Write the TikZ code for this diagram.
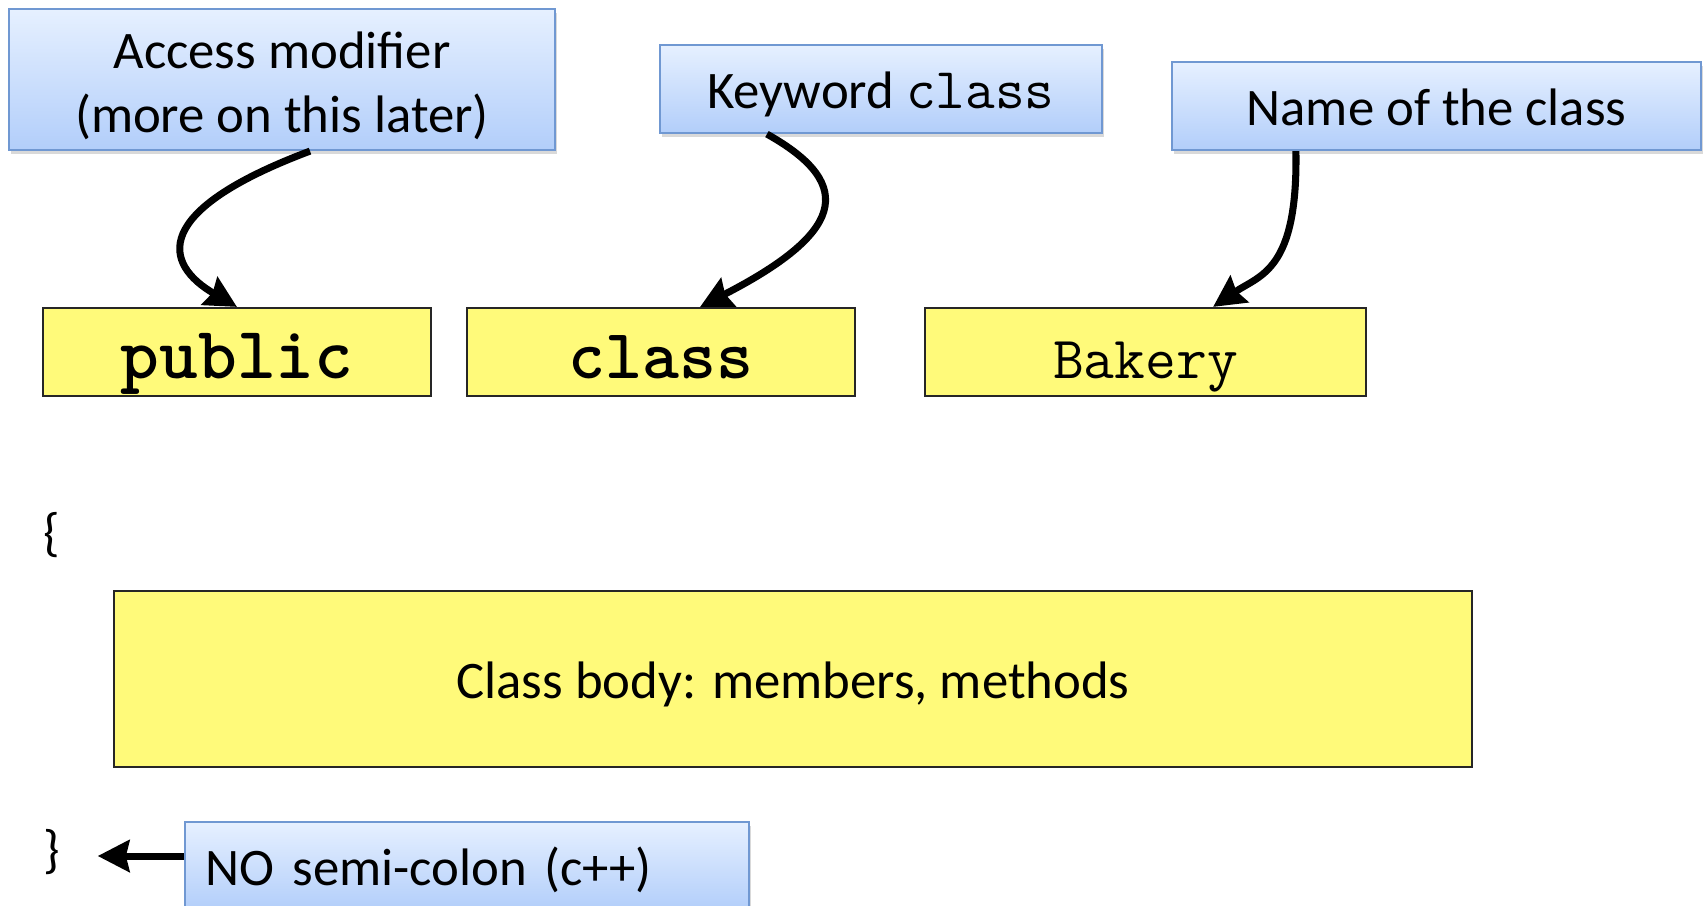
\documentclass[tikz,border=0pt]{standalone}
\usepackage{fontspec}
\setmainfont{Carlito}
\usetikzlibrary{arrows.meta,shadows}
\definecolor{notetop}{RGB}{230,240,255}
\definecolor{notebot}{RGB}{178,206,250}
\definecolor{noteedge}{RGB}{112,152,210}
\definecolor{partfill}{RGB}{255,250,122}

\begin{document}
\begin{tikzpicture}[x=.01cm,y=-.01cm,
  note/.style={draw=noteedge,line width=.6pt,top color=notetop,bottom color=notebot,
    drop shadow={opacity=.3,shadow xshift=.6pt,shadow yshift=-1.2pt},
    font=\fontsize{15}{18}\selectfont,align=center,inner sep=0pt},
  oneline/.style={text height=11pt,text depth=0pt},
  part/.style={draw=black!85,line width=.6pt,fill=partfill,inner sep=0pt,
    minimum height=.88cm},
  code/.style={font=\fontsize{#1}{#1}\selectfont\ttfamily,text height=14.8pt,text depth=0pt},
  boldcode/.style={font=\fontsize{#1}{#1}\selectfont\ttfamily\bfseries,
    text height=14.8pt,text depth=0pt},
  link/.style={line width=2pt,-{Stealth[length=9pt,width=9pt,inset=1pt]}}]
\useasboundingbox (0,0) rectangle (1703,905);
\node (am) [note,minimum width=5.46cm,minimum height=1.41cm] at (282,79.5)
  {\rule{0pt}{14pt}Access modifier\\(more on this later)};
\node (kw) [note,oneline,minimum width=4.42cm,minimum height=.88cm] at (881,89)
  {Keyword {\fontsize{16.4}{18}\selectfont\ttfamily class}};
\node (nm) [note,oneline,minimum width=5.29cm,minimum height=.88cm] at (1436.5,106)
  {Name of the class};
\node (pub) [part,minimum width=3.88cm,boldcode=21] at (237,352) {public};
\node (cls) [part,minimum width=3.88cm,boldcode=20] at (661,352) {class};
\node (bak) [part,minimum width=4.41cm,code=17] at (1145.5,352) {Bakery};
\node (ob) [font=\fontsize{15}{18}\selectfont] at (52,535) {\{};
\node (body) [part,oneline,minimum width=13.58cm,minimum height=1.76cm,
  font=\fontsize{15}{18}\selectfont] at (793,679) {Class body: members, methods};
\node (cb) [font=\fontsize{15}{18}\selectfont] at (52,852) {\}};
\node (semi) [note,oneline,minimum width=5.64cm,minimum height=.88cm,text width=5.22cm,
  align=left] at (467,866) {NO semi-colon (c++)};
% callouts to the parts
\draw[link] ([xshift=.28cm]am.south) .. controls +(-160,60) and +(-74,-43) .. (pub.north);
\draw[link] ([xshift=-1.14cm]kw.south) .. controls +(93,52) and +(140,-72) .. ([xshift=.39cm]cls.north);
\draw[link] ([xshift=-1.405cm]nm.south) .. controls +(2,120) and +(47,-32) .. ([xshift=.675cm]bak.north);
\draw[link] (semi.west |- 0,856) -- ([xshift=.25cm]cb.east |- 0,856);
\end{tikzpicture}
\end{document}
